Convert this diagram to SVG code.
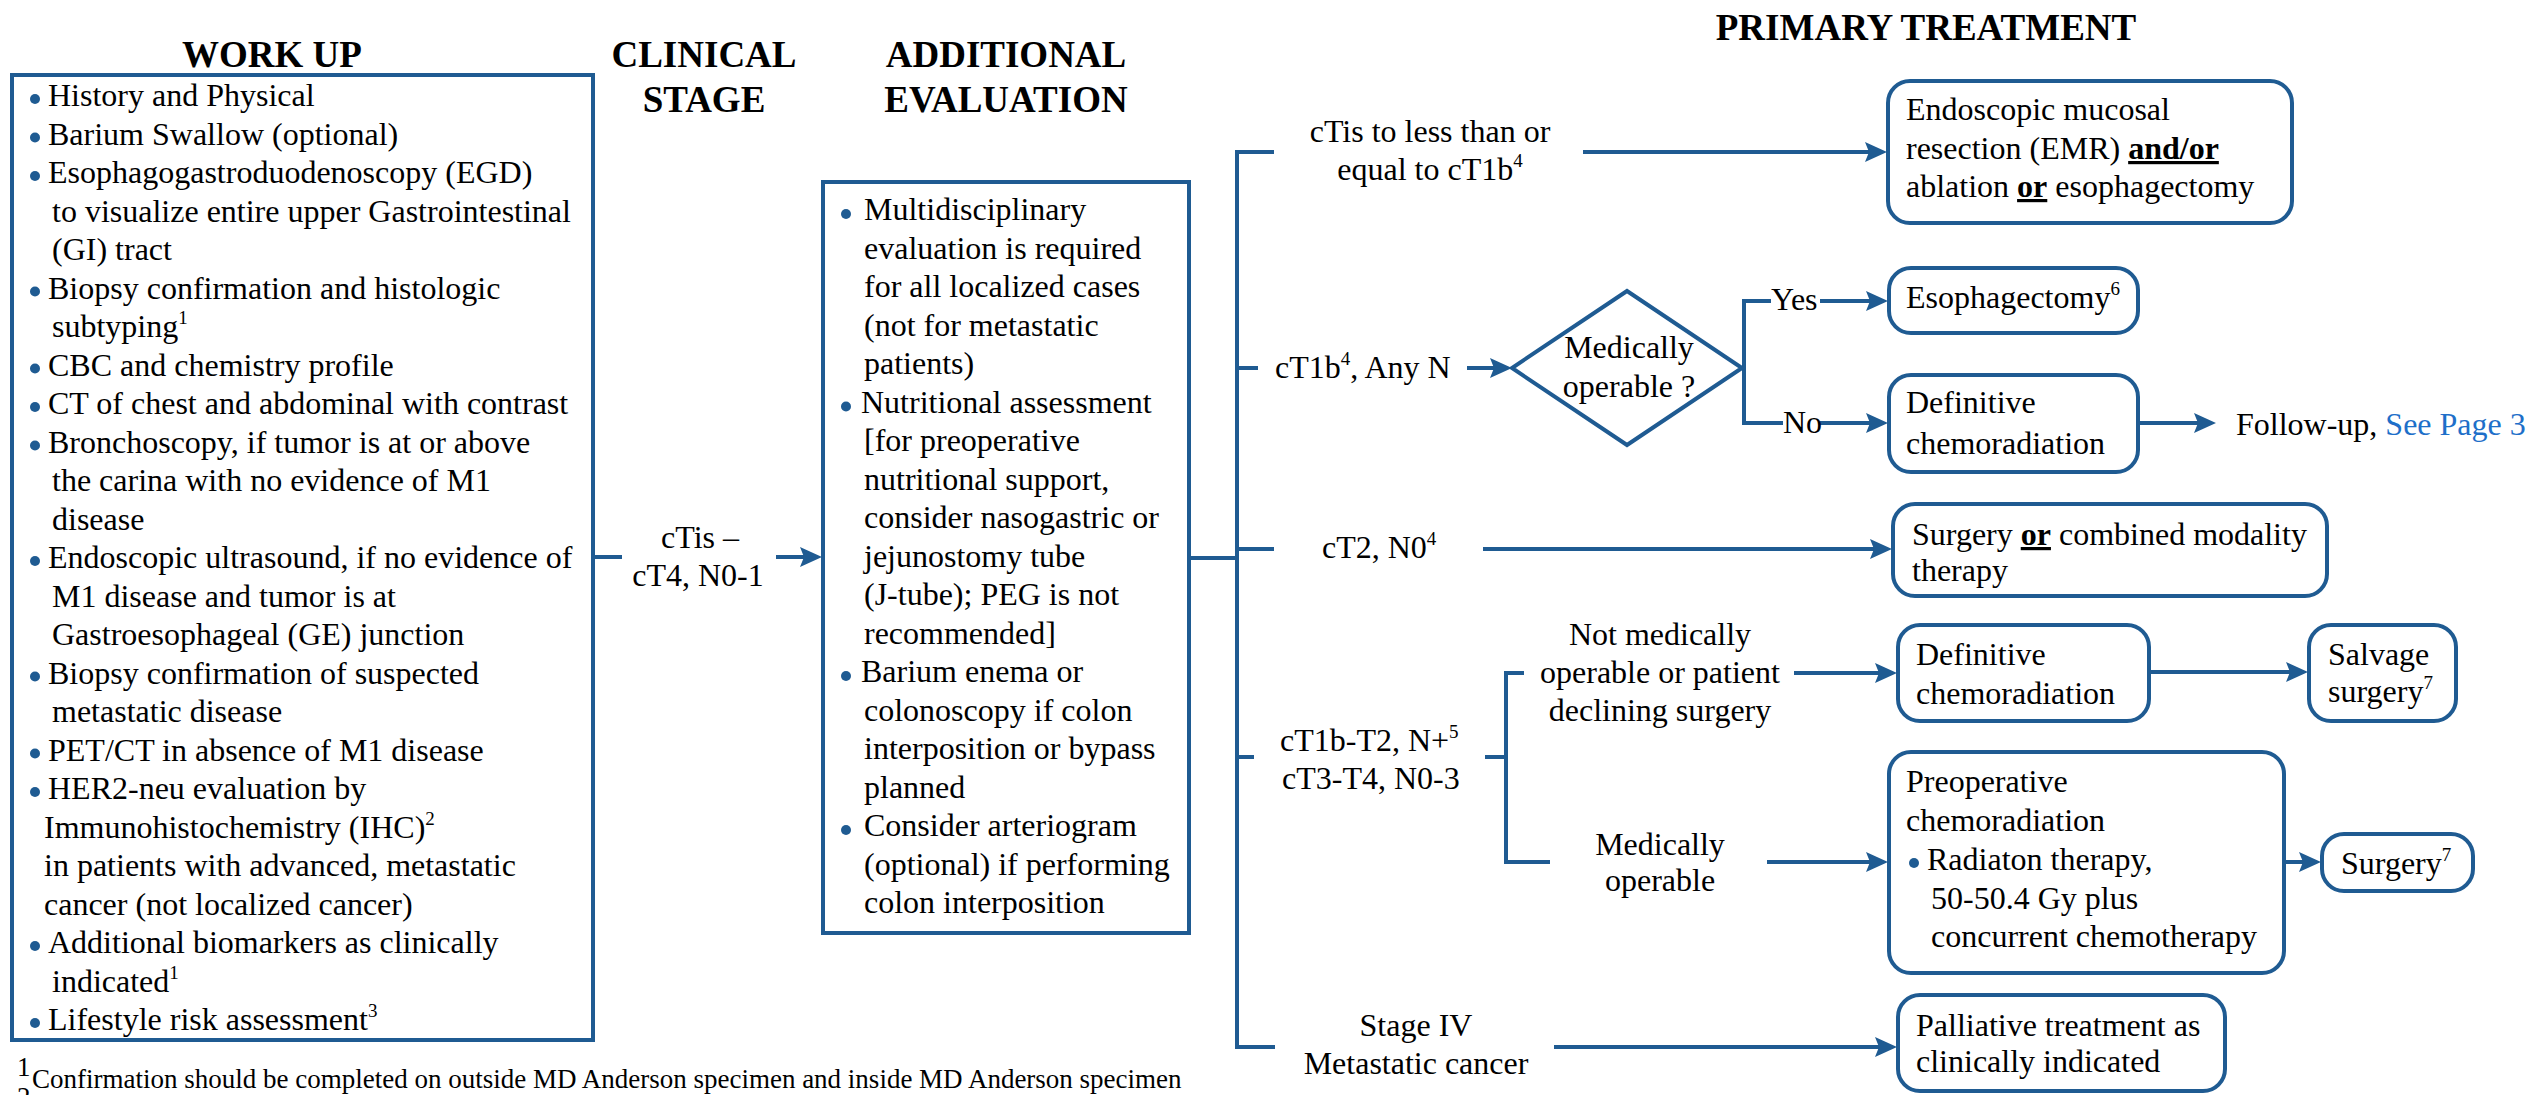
<svg xmlns="http://www.w3.org/2000/svg" width="2530" height="1095" viewBox="0 0 2530 1095">
<defs>
<style>
.t{font-family:"Liberation Serif","Times New Roman",serif;font-size:32px;fill:#000}
.h{font-family:"Liberation Serif","Times New Roman",serif;font-size:37px;font-weight:bold;fill:#000}
.m{text-anchor:middle}
.box{fill:#fff;stroke:#1f5b92;stroke-width:4}
.conn{fill:none;stroke:#1f5b92;stroke-width:4}
.bul{fill:#1f5b92}
.fn{font-family:"Liberation Serif","Times New Roman",serif;font-size:27px;fill:#000}
.u{font-weight:bold;text-decoration:underline}
.link{fill:#1e6fc9}
</style>
<marker id="ah" markerUnits="userSpaceOnUse" markerWidth="24" markerHeight="22" refX="14" refY="10" orient="auto">
<path d="M0,0 L22,10 L0,20 L4,10 z" fill="#1f5b92"/>
</marker>
</defs>
<rect width="2530" height="1095" fill="#fff"/>

<g id="headings">
<text class="h m" x="272" y="67">WORK UP</text>
<text class="h m" x="704" y="67">CLINICAL</text>
<text class="h m" x="704" y="112">STAGE</text>
<text class="h m" x="1006" y="67">ADDITIONAL</text>
<text class="h m" x="1006" y="112">EVALUATION</text>
<text class="h m" x="1926" y="40">PRIMARY TREATMENT</text>
</g>

<g id="connectors">
<path class="conn" d="M593,557 H622"/>
<path class="conn" d="M776,557 H814" marker-end="url(#ah)"/>
<path class="conn" d="M1189,558 H1237"/>
<path class="conn" d="M1274,152 H1237 V1047 H1275"/>
<path class="conn" d="M1237,368 H1258"/>
<path class="conn" d="M1237,549 H1274"/>
<path class="conn" d="M1237,757 H1254"/>
<path class="conn" d="M1583,152 H1879" marker-end="url(#ah)"/>
<path class="conn" d="M1467,368 H1504" marker-end="url(#ah)"/>
<path class="conn" d="M1483,549 H1884" marker-end="url(#ah)"/>
<path class="conn" d="M1554,1047 H1889" marker-end="url(#ah)"/>
<path class="conn" d="M1771,301 H1744 V423 H1783"/>
<path class="conn" d="M1820,301 H1880" marker-end="url(#ah)"/>
<path class="conn" d="M1820,423 H1880" marker-end="url(#ah)"/>
<path class="conn" d="M2138,423 H2208" marker-end="url(#ah)"/>
<path class="conn" d="M1485,757 H1506"/>
<path class="conn" d="M1524,673 H1506 V862 H1550"/>
<path class="conn" d="M1794,673 H1889" marker-end="url(#ah)"/>
<path class="conn" d="M1767,862 H1880" marker-end="url(#ah)"/>
<path class="conn" d="M2149,672 H2300" marker-end="url(#ah)"/>
<path class="conn" d="M2284,862 H2313" marker-end="url(#ah)"/>
</g>

<g id="workup">
<rect class="box" x="12" y="75" width="581" height="965"/>
<circle class="bul" cx="35" cy="99" r="5"/>
<circle class="bul" cx="35" cy="137.5" r="5"/>
<circle class="bul" cx="35" cy="176" r="5"/>
<circle class="bul" cx="35" cy="291.5" r="5"/>
<circle class="bul" cx="35" cy="368.5" r="5"/>
<circle class="bul" cx="35" cy="407" r="5"/>
<circle class="bul" cx="35" cy="445.5" r="5"/>
<circle class="bul" cx="35" cy="561" r="5"/>
<circle class="bul" cx="35" cy="676.5" r="5"/>
<circle class="bul" cx="35" cy="753.5" r="5"/>
<circle class="bul" cx="35" cy="792" r="5"/>
<circle class="bul" cx="35" cy="946" r="5"/>
<circle class="bul" cx="35" cy="1023" r="5"/>
<text class="t" x="48" y="106">History and Physical</text>
<text class="t" x="48" y="144.5">Barium Swallow (optional)</text>
<text class="t" x="48" y="183">Esophagogastroduodenoscopy (EGD)</text>
<text class="t" x="52" y="221.5">to visualize entire upper Gastrointestinal</text>
<text class="t" x="52" y="260">(GI) tract</text>
<text class="t" x="48" y="298.5">Biopsy confirmation and histologic</text>
<text class="t" x="52" y="337">subtyping<tspan font-size="19" dy="-13">1</tspan></text>
<text class="t" x="48" y="375.5">CBC and chemistry profile</text>
<text class="t" x="48" y="414">CT of chest and abdominal with contrast</text>
<text class="t" x="48" y="452.5">Bronchoscopy, if tumor is at or above</text>
<text class="t" x="52" y="491">the carina with no evidence of M1</text>
<text class="t" x="52" y="529.5">disease</text>
<text class="t" x="48" y="568">Endoscopic ultrasound, if no evidence of</text>
<text class="t" x="52" y="606.5">M1 disease and tumor is at</text>
<text class="t" x="52" y="645">Gastroesophageal (GE) junction</text>
<text class="t" x="48" y="683.5">Biopsy confirmation of suspected</text>
<text class="t" x="52" y="722">metastatic disease</text>
<text class="t" x="48" y="760.5">PET/CT in absence of M1 disease</text>
<text class="t" x="48" y="799">HER2-neu evaluation by</text>
<text class="t" x="44" y="837.5">Immunohistochemistry (IHC)<tspan font-size="19" dy="-13">2</tspan></text>
<text class="t" x="44" y="876">in patients with advanced, metastatic</text>
<text class="t" x="44" y="914.5">cancer (not localized cancer)</text>
<text class="t" x="48" y="953">Additional biomarkers as clinically</text>
<text class="t" x="52" y="991.5">indicated<tspan font-size="19" dy="-13">1</tspan></text>
<text class="t" x="48" y="1030">Lifestyle risk assessment<tspan font-size="19" dy="-13">3</tspan></text>
</g>

<g id="clinical-stage">
<text class="t m" x="700" y="548">cTis –</text>
<text class="t m" x="698" y="586">cT4, N0-1</text>
</g>

<g id="additional-evaluation">
<rect class="box" x="823" y="182" width="366" height="751"/>
<circle class="bul" cx="846" cy="214" r="5"/>
<circle class="bul" cx="846" cy="406.5" r="5"/>
<circle class="bul" cx="846" cy="676" r="5"/>
<circle class="bul" cx="846" cy="830" r="5"/>
<text class="t" x="864" y="220">Multidisciplinary</text>
<text class="t" x="864" y="258.5">evaluation is required</text>
<text class="t" x="864" y="297">for all localized cases</text>
<text class="t" x="864" y="335.5">(not for metastatic</text>
<text class="t" x="864" y="374">patients)</text>
<text class="t" x="861" y="412.5">Nutritional assessment</text>
<text class="t" x="864" y="451">[for preoperative</text>
<text class="t" x="864" y="489.5">nutritional support,</text>
<text class="t" x="864" y="528">consider nasogastric or</text>
<text class="t" x="864" y="566.5">jejunostomy tube</text>
<text class="t" x="864" y="605">(J-tube); PEG is not</text>
<text class="t" x="864" y="643.5">recommended]</text>
<text class="t" x="861" y="682">Barium enema or</text>
<text class="t" x="864" y="720.5">colonoscopy if colon</text>
<text class="t" x="864" y="759">interposition or bypass</text>
<text class="t" x="864" y="797.5">planned</text>
<text class="t" x="864" y="836">Consider arteriogram</text>
<text class="t" x="864" y="874.5">(optional) if performing</text>
<text class="t" x="864" y="913">colon interposition</text>
</g>

<g id="stage-labels">
<text class="t m" x="1430" y="142">cTis to less than or</text>
<text class="t m" x="1430" y="180">equal to cT1b<tspan font-size="19" dy="-13">4</tspan></text>
<text class="t" x="1275" y="378">cT1b<tspan font-size="19" dy="-13">4</tspan><tspan dy="13">, Any N</tspan></text>
<text class="t" x="1322" y="558">cT2, N0<tspan font-size="19" dy="-13">4</tspan></text>
<text class="t" x="1280" y="751">cT1b-T2, N+<tspan font-size="19" dy="-13">5</tspan></text>
<text class="t" x="1282" y="789">cT3-T4, N0-3</text>
<text class="t m" x="1416" y="1036">Stage IV</text>
<text class="t m" x="1416" y="1074">Metastatic cancer</text>
<text class="t m" x="1660" y="645">Not medically</text>
<text class="t m" x="1660" y="683">operable or patient</text>
<text class="t m" x="1660" y="721">declining surgery</text>
<text class="t m" x="1660" y="855">Medically</text>
<text class="t m" x="1660" y="891">operable</text>
<text class="t" x="1771" y="310">Yes</text>
<text class="t" x="1783" y="433">No</text>
</g>

<g id="decision-operable">
<polygon class="box" points="1627,291 1742,368 1627,445 1512,368"/>
<text class="t m" x="1629" y="358">Medically</text>
<text class="t m" x="1629" y="397">operable ?</text>
</g>

<g id="emr">
<rect class="box" x="1888" y="81" width="404" height="142" rx="22"/>
<text class="t" x="1906" y="120">Endoscopic mucosal</text>
<text class="t" x="1906" y="159">resection (EMR) <tspan class="u">and/or</tspan></text>
<text class="t" x="1906" y="197">ablation <tspan class="u">or</tspan> esophagectomy</text>
</g>

<g id="esophagectomy">
<rect class="box" x="1889" y="268" width="249" height="65" rx="22"/>
<text class="t" x="1906" y="308">Esophagectomy<tspan font-size="19" dy="-13">6</tspan></text>
</g>

<g id="definitive-chemoradiation-1">
<rect class="box" x="1889" y="375" width="249" height="97" rx="22"/>
<text class="t" x="1906" y="413">Definitive</text>
<text class="t" x="1906" y="454">chemoradiation</text>
</g>

<g id="follow-up">
<text class="t" x="2236" y="435">Follow-up, <tspan class="link">See Page 3</tspan></text>
</g>

<g id="surgery-or-combined">
<rect class="box" x="1893" y="504" width="434" height="92" rx="22"/>
<text class="t" x="1912" y="545">Surgery <tspan class="u">or</tspan> combined modality</text>
<text class="t" x="1912" y="581">therapy</text>
</g>

<g id="definitive-chemoradiation-2">
<rect class="box" x="1898" y="625" width="251" height="96" rx="22"/>
<text class="t" x="1916" y="665">Definitive</text>
<text class="t" x="1916" y="704">chemoradiation</text>
</g>

<g id="salvage-surgery">
<rect class="box" x="2309" y="625" width="147" height="96" rx="22"/>
<text class="t" x="2328" y="665">Salvage</text>
<text class="t" x="2328" y="702">surgery<tspan font-size="19" dy="-13">7</tspan></text>
</g>

<g id="preoperative-chemoradiation">
<rect class="box" x="1889" y="752" width="395" height="221" rx="22"/>
<text class="t" x="1906" y="792">Preoperative</text>
<text class="t" x="1906" y="831">chemoradiation</text>
<circle class="bul" cx="1914" cy="863" r="5"/>
<text class="t" x="1927" y="870">Radiaton therapy,</text>
<text class="t" x="1931" y="909">50-50.4 Gy plus</text>
<text class="t" x="1931" y="947">concurrent chemotherapy</text>
</g>

<g id="surgery">
<rect class="box" x="2322" y="834" width="151" height="57" rx="22"/>
<text class="t" x="2341" y="874">Surgery<tspan font-size="19" dy="-13">7</tspan></text>
</g>

<g id="palliative">
<rect class="box" x="1898" y="995" width="327" height="96" rx="22"/>
<text class="t" x="1916" y="1036">Palliative treatment as</text>
<text class="t" x="1916" y="1072">clinically indicated</text>
</g>

<g id="footnotes">
<text class="fn" x="17" y="1076" font-size="18">1</text>
<text class="fn" x="32" y="1088">Confirmation should be completed on outside MD Anderson specimen and inside MD Anderson specimen</text>
<text class="fn" x="17" y="1106" font-size="18">2</text>
</g>
</svg>
